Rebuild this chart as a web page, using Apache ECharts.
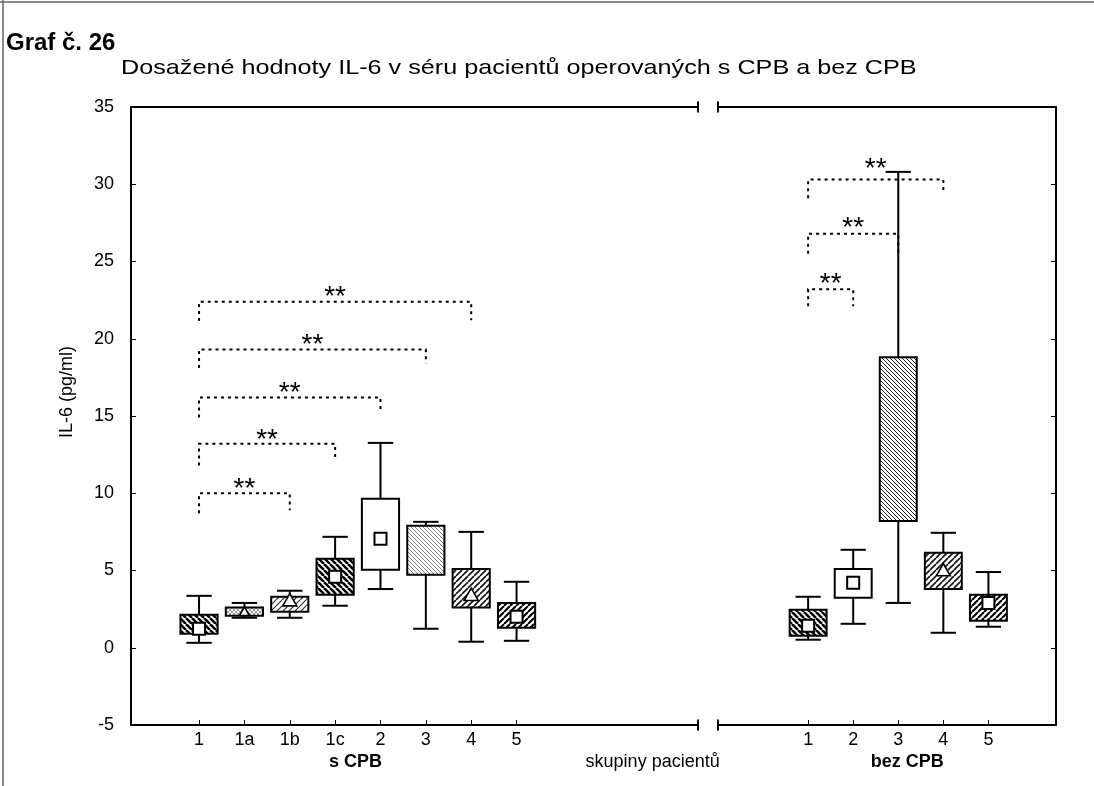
<!DOCTYPE html>
<html><head><meta charset="utf-8">
<script src="https://cdn.jsdelivr.net/npm/echarts@6/dist/echarts.min.js"></script>
<style>html,body{margin:0;padding:0;background:#fff}#c{width:1094px;height:786px}</style>
</head><body><div id="c"></div>
<script>
// ---------------- data ----------------
const figureLabel = 'Graf č. 26';
const chartTitle = 'Dosažené hodnoty IL-6 v séru pacientů operovaných s CPB a bez CPB';
const yAxisName = 'IL-6 (pg/ml)';
const yMin = -5, yMax = 35, yStep = 5;

const leftCategories = ['1', '1a', '1b', '1c', '2', '3', '4', '5'];
const rightCategories = ['1', '2', '3', '4', '5'];
const leftGroupName = 's CPB';
const rightGroupName = 'bez CPB';
const xAxisName = 'skupiny pacientů';

// [whisker low, box low, box high, whisker high]
const leftBoxes = [
  [0.32, 0.90, 2.13, 3.36],
  [1.94, 2.07, 2.60, 2.90],
  [1.94, 2.33, 3.30, 3.69],
  [2.72, 3.43, 5.76, 7.18],
  [3.80, 5.05, 9.64, 13.26],
  [1.23, 4.72, 7.90, 8.15],
  [0.39, 2.60, 5.10, 7.50],
  [0.45, 1.29, 2.90, 4.27]
];
const leftCentres = [1.23, 2.33, 3.05, 4.60, 7.05, 6.30, 3.40, 2.00];

const rightBoxes = [
  [0.52, 0.78, 2.46, 3.30],
  [1.55, 3.23, 5.10, 6.34],
  [2.90, 8.20, 18.80, 30.80],
  [0.97, 3.80, 6.15, 7.44],
  [1.36, 1.75, 3.43, 4.90]
];
const rightCentres = [1.42, 4.20, 9.60, 5.00, 2.90];

// significance brackets: [from group, to group, bar level, left end, right end]
const leftBrackets = [
  [0, 2, 10.0, 8.7, 8.9],
  [0, 3, 13.2, 11.8, 12.2],
  [0, 4, 16.2, 14.9, 15.2],
  [0, 5, 19.3, 18.1, 18.4],
  [0, 6, 22.4, 21.15, 21.2]
];
const rightBrackets = [
  [0, 1, 23.2, 22.1, 22.1],
  [0, 2, 26.8, 25.5, 25.5],
  [0, 3, 30.3, 29.1, 29.5]
];
const sigMark = '**';

// ---------------- styles ----------------
const leftFills = ['darkBack', 'light', 'fwdLight', 'darkBack', 'white', 'fineGrey', 'fwd', 'fwdDark'];
const leftShapes = ['square', 'triangleSmall', 'triangle', 'square', 'square', 'none', 'triangle', 'square'];
const rightFills = ['darkBack', 'white', 'fineBack', 'fwd', 'fwdDark'];
const rightShapes = ['square', 'square', 'none', 'triangle', 'square'];
// extra lift (px) of each "**" label above its bracket
const leftSigLift = [0, 0, 0, 0, 0];
const rightSigLift = [1, 1, 6];

const FONT = "'Liberation Sans', Arial, sans-serif";

function makeHatch(kind) {
  const specs = {
    darkBack: { s: 6, lw: 2.6, dir: 'b', c: '#000' },
    fwd:      { s: 6, lw: 1.6, dir: 'f', c: '#111' },
    fwdDark:  { s: 6, lw: 2.1, dir: 'f', c: '#000' },
    fwdLight: { s: 6, lw: 1.2, dir: 'f', c: '#333' },
    fineBack: { s: 4, lw: 1.0, dir: 'b', c: '#222' },
    fineGrey: { s: 4, lw: 1.0, dir: 'b', c: '#8a8a8a' },
    light:    { s: 4, lw: 1.0, dir: 'x', c: '#9a9a9a' }
  };
  const sp = specs[kind];
  if (!sp) return '#fff';
  const cv = document.createElement('canvas');
  cv.width = sp.s; cv.height = sp.s;
  const g = cv.getContext('2d');
  g.fillStyle = '#fff'; g.fillRect(0, 0, sp.s, sp.s);
  g.strokeStyle = sp.c; g.lineWidth = sp.lw;
  g.beginPath();
  for (let k = -1; k <= 1; k++) {
    if (sp.dir === 'b' || sp.dir === 'x') { g.moveTo(k * sp.s, 0); g.lineTo(k * sp.s + sp.s, sp.s); }
    if (sp.dir === 'f' || sp.dir === 'x') { g.moveTo(k * sp.s, sp.s); g.lineTo(k * sp.s + sp.s, 0); }
  }
  g.stroke();
  return { image: cv, repeat: 'repeat' };
}

function boxRenderer(fills, shapes) {
  const pats = fills.map(makeHatch);
  return function (params, api) {
    const i = params.dataIndex;
    const x = api.value(0);
    const lo = api.coord([x, api.value(1)]);
    const q1 = api.coord([x, api.value(2)]);
    const q3 = api.coord([x, api.value(3)]);
    const hi = api.coord([x, api.value(4)]);
    const m = api.coord([x, api.value(5)]);
    const unit = api.size([1, 0])[0];
    const bw = unit * 0.82, cw = unit * 0.56, cx = lo[0];
    const ln = { stroke: '#000', lineWidth: 2 };
    const ch = [
      { type: 'line', shape: { x1: cx, y1: lo[1], x2: cx, y2: hi[1] }, style: ln },
      { type: 'line', shape: { x1: cx - cw / 2, y1: lo[1], x2: cx + cw / 2, y2: lo[1] }, style: ln },
      { type: 'line', shape: { x1: cx - cw / 2, y1: hi[1], x2: cx + cw / 2, y2: hi[1] }, style: ln },
      { type: 'rect', shape: { x: cx - bw / 2, y: q3[1], width: bw, height: q1[1] - q3[1] },
        style: { fill: pats[i], stroke: '#000', lineWidth: 2 } }
    ];
    const sh = shapes[i];
    if (sh === 'square') {
      ch.push({ type: 'rect', shape: { x: m[0] - 6, y: m[1] - 6, width: 12, height: 12 },
        style: { fill: '#fff', stroke: '#000', lineWidth: 2 } });
    } else if (sh === 'triangle' || sh === 'triangleSmall') {
      const r = sh === 'triangle' ? 7 : 5;
      ch.push({ type: 'polygon', shape: { points: [[m[0], m[1] - r], [m[0] + r, m[1] + r * 0.75], [m[0] - r, m[1] + r * 0.75]] },
        style: { fill: '#fff', stroke: '#000', lineWidth: 1.6 } });
    }
    return { type: 'group', children: ch };
  };
}

function bracketRenderer(lifts) {
  return function (params, api) {
    const a = api.value(0), b = api.value(1), lvl = api.value(2), eL = api.value(3), eR = api.value(4);
    const p1 = api.coord([a, eL]), p2 = api.coord([a, lvl]), p3 = api.coord([b, lvl]), p4 = api.coord([b, eR]);
    return {
      type: 'group',
      children: [
        { type: 'polyline', shape: { points: [p1, p2, p3, p4] },
          style: { stroke: '#000', lineWidth: 2, lineDash: [3, 4], fill: null } },
        { type: 'text', x: (p2[0] + p3[0]) / 2, y: p2[1] - 4 - lifts[params.dataIndex],
          style: { text: sigMark, font: '28px ' + FONT, fill: '#000', align: 'center', verticalAlign: 'middle' } }
      ]
    };
  };
}

const leftBoxData = leftBoxes.map((b, i) => [i, b[0], b[1], b[2], b[3], leftCentres[i]]);
const rightBoxData = rightBoxes.map((b, i) => [i, b[0], b[1], b[2], b[3], rightCentres[i]]);
const leftIdx = leftCategories.map((c, i) => i);
const rightIdx = rightCategories.map((c, i) => i);

const lineStyle = { color: '#000', width: 2 };
const breakSize = [11, 2];
const LABEL_SIZE = 18;

function catAxis(grid, min, max, idx, cats, breakEnd) {
  return {
    gridIndex: grid, type: 'value', min: min, max: max, position: 'bottom',
    axisLine: { show: true, onZero: false, lineStyle: lineStyle,
      symbol: breakEnd === 'end' ? ['none', 'rect'] : ['rect', 'none'], symbolSize: breakSize },
    axisTick: { show: true, inside: true, length: 5, customValues: idx, lineStyle: { color: '#000', width: 1 } },
    axisLabel: { customValues: idx, formatter: v => cats[Math.round(v)], color: '#000', fontSize: LABEL_SIZE, fontFamily: FONT, margin: 6 },
    splitLine: { show: false }
  };
}
function topAxis(grid, min, max, breakEnd) {
  return {
    gridIndex: grid, type: 'value', min: min, max: max, position: 'top',
    axisLine: { show: true, onZero: false, lineStyle: lineStyle,
      symbol: breakEnd === 'end' ? ['none', 'rect'] : ['rect', 'none'], symbolSize: breakSize },
    axisTick: { show: false }, axisLabel: { show: false }, splitLine: { show: false }
  };
}
function groupAxis(grid, min, max, vals, names, weight) {
  return {
    gridIndex: grid, type: 'value', min: min, max: max, position: 'bottom',
    axisLine: { show: false, onZero: false }, axisTick: { show: false }, splitLine: { show: false },
    axisLabel: { customValues: vals, margin: 28, color: '#000', fontFamily: FONT, fontWeight: weight,
      formatter: (v) => names[vals.indexOf(v)], fontSize: LABEL_SIZE }
  };
}

const chart = echarts.init(document.getElementById('c'), null, { renderer: 'canvas' });

chart.setOption({
  animation: false,
  backgroundColor: '#fff',
  graphic: [
    { type: 'line', shape: { x1: 0, y1: 2, x2: 1094, y2: 2 }, style: { stroke: '#666', lineWidth: 1.5 } },
    { type: 'line', shape: { x1: 3, y1: 0, x2: 3, y2: 786 }, style: { stroke: '#666', lineWidth: 1.5 } },
    { type: 'text', x: 6, y: 55, scaleX: 1.0,
      style: { text: figureLabel, font: "bold 24px 'Liberation Sans Narrow', 'Arial Narrow', 'Liberation Sans', sans-serif", fill: '#000', verticalAlign: 'bottom' } },
    { type: 'text', x: 121, y: 79, scaleX: 1.2,
      style: { text: chartTitle, font: '21px ' + FONT, fill: '#000', verticalAlign: 'bottom' } }
  ],
  grid: [
    { left: 131, top: 107, width: 567, height: 618 },
    { left: 718, top: 107, width: 338, height: 618 }
  ],
  xAxis: [
    catAxis(0, -1.5, 11, leftIdx, leftCategories, 'end'),
    topAxis(0, -1.5, 11, 'end'),
    groupAxis(0, -1.5, 11, [3.45], [leftGroupName], 'bold'),
    groupAxis(0, -1.5, 11, [10], [xAxisName], 'normal'),
    catAxis(1, -2, 5.5, rightIdx, rightCategories, 'start'),
    topAxis(1, -2, 5.5, 'start'),
    groupAxis(1, -2, 5.5, [2.2], [rightGroupName], 'bold')
  ],
  yAxis: [
    { gridIndex: 0, type: 'value', min: yMin, max: yMax, interval: yStep, position: 'left',
      axisLine: { show: true, onZero: false, lineStyle: lineStyle },
      axisTick: { show: true, inside: true, length: 5, lineStyle: { color: '#000', width: 1 } },
      axisLabel: { color: '#000', fontSize: LABEL_SIZE, fontFamily: FONT, margin: 17 },
      splitLine: { show: false },
      name: yAxisName, nameLocation: 'middle', nameGap: 55,
      nameTextStyle: { color: '#000', fontSize: 18, fontFamily: FONT, padding: [0, 0, 0, 48] } },
    { gridIndex: 1, type: 'value', min: yMin, max: yMax, interval: yStep, position: 'right',
      axisLine: { show: true, onZero: false, lineStyle: lineStyle },
      axisTick: { show: true, inside: true, length: 5, lineStyle: { color: '#000', width: 1 } },
      axisLabel: { show: false }, splitLine: { show: false } }
  ],
  series: [
    { type: 'custom', xAxisIndex: 0, yAxisIndex: 0, data: leftBoxData, renderItem: boxRenderer(leftFills, leftShapes),
      encode: { x: 0, y: [1, 2, 3, 4, 5] }, clip: false, z: 3 },
    { type: 'custom', xAxisIndex: 4, yAxisIndex: 1, data: rightBoxData, renderItem: boxRenderer(rightFills, rightShapes),
      encode: { x: 0, y: [1, 2, 3, 4, 5] }, clip: false, z: 3 },
    { type: 'custom', xAxisIndex: 0, yAxisIndex: 0, data: leftBrackets, renderItem: bracketRenderer(leftSigLift),
      encode: { x: [0, 1], y: [2, 3, 4] }, clip: false, z: 2 },
    { type: 'custom', xAxisIndex: 4, yAxisIndex: 1, data: rightBrackets, renderItem: bracketRenderer(rightSigLift),
      encode: { x: [0, 1], y: [2, 3, 4] }, clip: false, z: 2 }
  ]
});
</script></body></html>
